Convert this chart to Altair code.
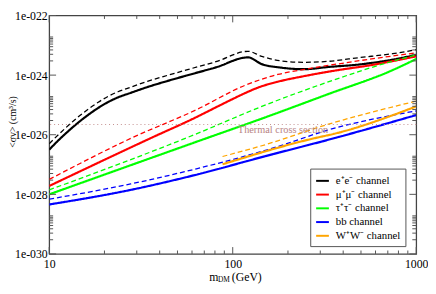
import altair as alt
import pandas as pd

# ---------------- data ----------------
channels = ['e⁺e⁻ channel', 'μ⁺μ⁻ channel', 'τ⁺τ⁻ channel', 'bb channel', 'W⁺W⁻ channel']
colors = ['#000000', '#ff0000', '#00ff00', '#0000ff', '#ffa500']

ee_m = [10, 11.31, 12.79, 14.46, 16.36, 18.5, 20.9, 23.7, 27.8, 34.3, 42.3, 56.1, 81, 121,
        144, 184, 246, 327, 494, 745, 1000]
ee_sv = [3.16e-27, 6.8e-27, 1.37e-26, 2.62e-26, 4.7e-26, 7.96e-26, 1.24e-25, 1.79e-25, 2.54e-25,
         3.98e-25, 5.9e-25, 9.7e-25, 1.82e-24, 3.94e-24,
         2.34e-24, 1.78e-24, 1.58e-24, 1.86e-24, 2.29e-24, 3.31e-24, 4.79e-24]
ee_d_m = [10, 11.31, 12.79, 14.46, 16.36, 18.5, 20.9, 23.7, 27.8, 34.3, 42.3, 56.1, 81, 121,
          144, 184, 246, 327, 494, 745, 1000]
ee_d_sv = [5.0e-27, 1.05e-26, 2.12e-26, 4.06e-26, 7.3e-26, 1.23e-25, 1.92e-25, 2.77e-25, 3.94e-25,
           6.2e-25, 9.1e-25, 1.5e-24, 2.82e-24, 6.3e-24,
           4.27e-24, 3.0e-24, 2.69e-24, 2.88e-24, 3.9e-24, 5.25e-24, 7.1e-24]

mm_m = [10, 35.6, 63.4, 81, 100, 117, 140, 176, 246, 369, 561, 1000]
mm_sv = [1.91e-28, 7.6e-27, 3.9e-26, 8.3e-26, 1.58e-25, 2.51e-25, 3.98e-25, 6.0e-25, 9.3e-25,
         1.45e-24, 2.14e-24, 4.27e-24]
mm_d_m = [10, 27.9, 63.4, 117, 176, 246, 369, 1000]
mm_d_sv = [3.16e-28, 7.6e-27, 6.9e-26, 4.57e-25, 1.05e-24, 1.55e-24, 2.34e-24, 5.6e-24]

tt_m = [10, 71.8, 144, 327, 745, 1000]
tt_sv = [1.0e-28, 7.6e-27, 3.47e-26, 2.24e-25, 1.48e-24, 3.47e-24]
tt_d_m = [10, 63.4, 144, 327, 745, 1000]
tt_d_sv = [1.41e-28, 1.07e-26, 8.9e-26, 5.75e-25, 2.95e-24, 4.79e-24]

bb_m = [10, 27.8, 63.4, 150, 356, 1000]
bb_sv = [4.57e-29, 1.41e-28, 4.57e-28, 1.9e-27, 7.6e-27, 4.57e-26]
bb_d_m = [10, 27.8, 63.4, 176, 327, 1000]
bb_d_sv = [6.9e-29, 2.24e-28, 7.2e-28, 4.0e-27, 1.41e-26, 6.3e-26]

ww_m = [88, 278, 356, 1000]
ww_sv = [1.02e-27, 7.6e-27, 1.07e-26, 8.9e-26]
ww_d_m = [88, 144, 327, 1000]
ww_d_sv = [1.86e-27, 4.27e-27, 2.19e-26, 1.35e-25]

thermal_sv = [2.2e-26]
thermal_label_m = [188]

x_major = [10, 100, 1000]
x_minor = [20, 30, 40, 50, 60, 70, 80, 90, 200, 300, 400, 500, 600, 700, 800, 900]
y_major = [1e-30, 1e-28, 1e-26, 1e-24, 1e-22]
y_minor_mult = [3, 5, 7, 9, 11, 13, 15, 17, 19]

# ---------------- build table ----------------
series = [
    (0, 'solid', ee_m, ee_sv), (0, 'dashed', ee_d_m, ee_d_sv),
    (1, 'solid', mm_m, mm_sv), (1, 'dashed', mm_d_m, mm_d_sv),
    (2, 'solid', tt_m, tt_sv), (2, 'dashed', tt_d_m, tt_d_sv),
    (3, 'solid', bb_m, bb_sv), (3, 'dashed', bb_d_m, bb_d_sv),
    (4, 'solid', ww_m, ww_sv), (4, 'dashed', ww_d_m, ww_d_sv),
]
rows = []
for i, (ci, st, ms, svs) in enumerate(series):
    for m, s in zip(ms, svs):
        rows.append({'m': m, 'sv': s, 'channel': channels[ci], 'style': st, 'sid': i})
df = pd.DataFrame(rows)

y_minor = [L * k for L in y_major[:-1] for k in y_minor_mult]

W, H = 374, 243
FONT = 'Liberation Serif'
TICK = '#555555'

xscale = alt.Scale(type='log', domain=[10, 1000], nice=False)
yscale = alt.Scale(type='log', domain=[1e-30, 1e-22], nice=False)

x_axis = alt.Axis(values=x_major, format='d', title=None, labelFont=FONT, labelFontSize=12,
                  labelColor='black', labelPadding=5, ticks=False, domain=False, grid=False,
                  labelFlush=False)
y_axis = alt.Axis(values=y_major, labelExpr="'1e-0' + round(-log(datum.value)/LN10)",
                  title='<σv> (cm³/s)', titleFont=FONT, titleFontSize=10, titleFontWeight='normal',
                  titleColor='black', titleX=-37, titleY=108, titleAngle=270,
                  titleAlign='center', titleBaseline='middle',
                  labelFont=FONT, labelFontSize=12, labelColor='black', labelPadding=2,
                  ticks=False, domain=False, grid=False)

lines = alt.Chart(df).mark_line(interpolate='monotone', clip=True).encode(
    x=alt.X('m:Q', scale=xscale, axis=x_axis),
    y=alt.Y('sv:Q', scale=yscale, axis=y_axis),
    color=alt.Color('channel:N', scale=alt.Scale(domain=channels, range=colors),
                    legend=alt.Legend(title=None, orient='none', legendX=266, legendY=156,
                                      direction='vertical', symbolType='stroke', symbolSize=169,
                                      symbolStrokeWidth=2, labelFont=FONT, labelFontSize=11,
                                      labelColor='black', padding=5, rowPadding=1,
                                      strokeColor='#555555', fillColor='white', labelOffset=6)),
    strokeDash=alt.StrokeDash('style:N', scale=alt.Scale(domain=['solid', 'dashed'],
                                                         range=[[1, 0], [5, 3]]), legend=None),
    strokeWidth=alt.StrokeWidth('style:N', scale=alt.Scale(domain=['solid', 'dashed'],
                                                           range=[2.2, 1.3]), legend=None),
    detail='sid:N',
)

thermal_df = pd.DataFrame({'sv': thermal_sv, 'm': thermal_label_m, 't': ['Thermal cross section']})
thermal = alt.Chart(thermal_df).mark_rule(color='#c49090', strokeDash=[1, 3], strokeWidth=1.2).encode(
    y=alt.Y('sv:Q', scale=yscale, axis=y_axis))
thermal_txt = alt.Chart(thermal_df).mark_text(font=FONT, fontSize=10.5, color='#b88484', dy=6,
                                              align='center', baseline='middle').encode(
    x=alt.X('m:Q', scale=xscale, axis=x_axis), y=alt.Y('sv:Q', scale=yscale, axis=y_axis), text='t:N')


def yticks(vals, length):
    d = pd.DataFrame({'sv': vals})
    left = alt.Chart(d).mark_rule(color=TICK, strokeWidth=1).encode(
        y=alt.Y('sv:Q', scale=yscale, axis=y_axis), x=alt.value(0), x2=alt.value(length))
    right = alt.Chart(d).mark_rule(color=TICK, strokeWidth=1).encode(
        y=alt.Y('sv:Q', scale=yscale, axis=y_axis), x=alt.value(W), x2=alt.value(W - length))
    return [left, right]


def xticks(vals, length):
    d = pd.DataFrame({'m': vals})
    bottom = alt.Chart(d).mark_rule(color=TICK, strokeWidth=1).encode(
        x=alt.X('m:Q', scale=xscale, axis=x_axis), y=alt.value(H), y2=alt.value(H - length))
    top = alt.Chart(d).mark_rule(color=TICK, strokeWidth=1).encode(
        x=alt.X('m:Q', scale=xscale, axis=x_axis), y=alt.value(0), y2=alt.value(length))
    return [bottom, top]


one = pd.DataFrame({'a': [0]})
t_m = alt.Chart(one).mark_text(text='m', font=FONT, fontSize=12, align='left', baseline='middle',
                               color='black').encode(x=alt.value(163), y=alt.value(H + 24))
t_dm = alt.Chart(one).mark_text(text='DM', font=FONT, fontSize=7.5, align='left', baseline='middle',
                                color='black').encode(x=alt.value(172), y=alt.value(H + 27))
t_gev = alt.Chart(one).mark_text(text='(GeV)', font=FONT, fontSize=12, align='left', baseline='middle',
                                 color='black').encode(x=alt.value(186), y=alt.value(H + 24))

layers = [lines, thermal, thermal_txt] + yticks(y_major, 7) + yticks(y_minor, 4) \
    + xticks(x_major, 7) + xticks(x_minor, 3.5) + [t_m, t_dm, t_gev]

chart = alt.layer(*layers).properties(
    width=W, height=H,
    autosize=alt.AutoSizeParams(type='none'),
    padding={'left': 42, 'top': 5, 'right': 12, 'bottom': 30},
).configure_view(stroke='#444444', strokeWidth=1.3)

chart.save('out.html', embed_options={'renderer': 'svg', 'actions': False})
